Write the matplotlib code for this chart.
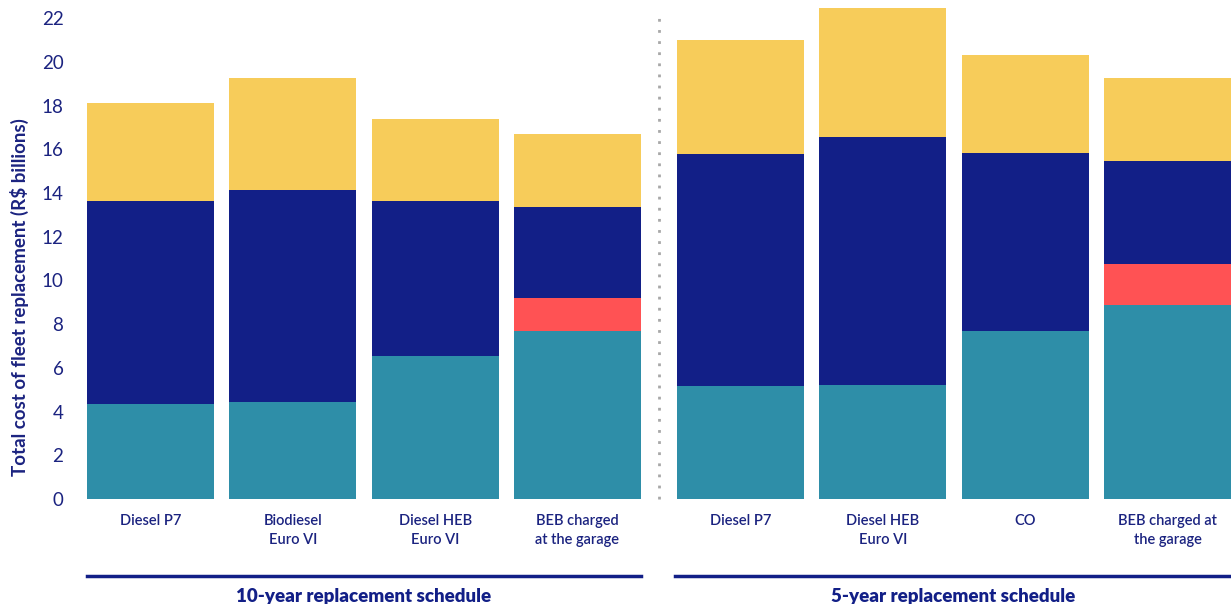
import matplotlib.pyplot as plt
import numpy as np

# ── Data (R$ billions) ───────────────────────────────────────
categories = ["Diesel P7", "Biodiesel\nEuro VI", "Diesel HEB\nEuro VI", "BEB charged\nat the garage",
              "Diesel P7", "Diesel HEB\nEuro VI", "CO", "BEB charged at\nthe garage"]
groups = ["10-year replacement schedule", "5-year replacement schedule"]

teal_vals   = [4.35, 4.44, 6.54, 7.69, 5.17, 5.21, 7.69, 8.87]
red_vals    = [0.00, 0.00, 0.00, 1.50, 0.00, 0.00, 0.00, 1.88]
navy_vals   = [9.28, 9.70, 7.09, 4.17, 10.61, 11.35, 8.14, 4.71]
yellow_vals = [4.49, 5.12, 3.75, 3.34, 5.22, 5.90, 4.48, 3.80]

# ── Style ───────────────────────────────────────────────────
TEAL, RED, NAVY, YELLOW = "#2E8EA8", "#FF5254", "#121F87", "#F7CC5A"
TXT = "#1B2380"
plt.rcParams["font.family"] = ["Lato", "DejaVu Sans"]

gap = 0.146
x = np.array([i + (gap if i >= 4 else 0) for i in range(len(categories))])
w = 0.893

fig = plt.figure(figsize=(12.31, 6.04), dpi=100)
ax = fig.add_axes([87 / 1231, 1 - 499 / 604, 1 - 87 / 1231, 494 / 604])

bottom = np.zeros(len(x))
for vals, col in [(teal_vals, TEAL), (red_vals, RED), (navy_vals, NAVY), (yellow_vals, YELLOW)]:
    ax.bar(x, vals, width=w, bottom=bottom, color=col, linewidth=0)
    bottom += np.array(vals)

ax.set_xlim(-w / 2, x[-1] + w / 2)
ax.set_ylim(0, 22.6)
ax.set_yticks(range(0, 23, 2))
ax.tick_params(axis="y", length=0, pad=17, labelsize=13.5, labelcolor=TXT)
ax.set_xticks(x)
ax.set_xticklabels(categories, fontsize=10.5, color=TXT, fontweight="semibold", linespacing=1.45)
ax.tick_params(axis="x", length=0, pad=11)
for s in ax.spines.values():
    s.set_visible(False)

# divider between schedules
mid = (x[3] + x[4]) / 2
ax.plot([mid, mid], [0, 22.3], color="#A8A8A8", lw=2, linestyle=(0, (1, 3)), clip_on=False)

# group brackets
tr = ax.get_xaxis_transform()
spans = [(x[0] - w / 2, x[3] + w / 2), (x[4] - w / 2 - 0.015, x[7] + w / 2)]
for (a, b), name in zip(spans, groups):
    ax.plot([a, b], [-0.156, -0.156], color=NAVY, lw=2.5, transform=tr, clip_on=False)
    ax.text((a + b) / 2, -0.197, name, transform=tr, ha="center", va="center",
            fontsize=13.5, fontweight="heavy", color=NAVY)

fig.text(0.016, 1 - 297 / 604, "Total cost of fleet replacement (R$ billions)", rotation=90,
         ha="center", va="center", fontsize=13.5, fontweight="bold", color=TXT)

fig.savefig("out.png", dpi=100)
